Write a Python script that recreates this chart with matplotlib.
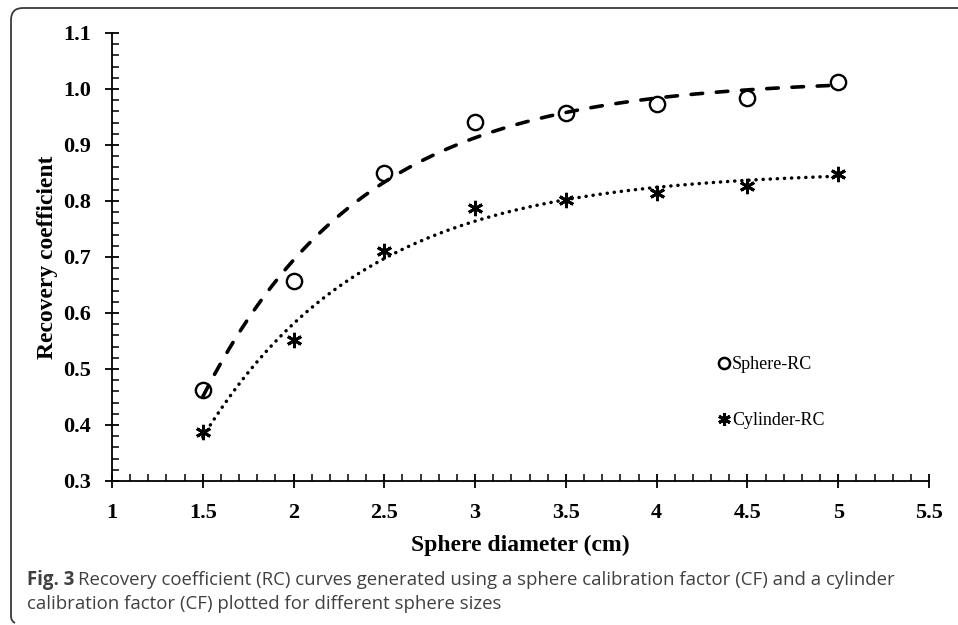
import numpy as np
import matplotlib
matplotlib.use("Agg")
import matplotlib.pyplot as plt
from matplotlib.path import Path
from matplotlib.patches import PathPatch
from matplotlib.ticker import MultipleLocator, FormatStrFormatter, FuncFormatter
from matplotlib.lines import Line2D

diameters = [1.5, 2.0, 2.5, 3.0, 3.5, 4.0, 4.5, 5.0]
sphere_rc = [0.462, 0.658, 0.850, 0.941, 0.957, 0.974, 0.984, 1.013]
cylinder_rc = [0.388, 0.551, 0.710, 0.788, 0.802, 0.815, 0.826, 0.849]

W, H = 958, 625
fig = plt.figure(figsize=(W / 100, H / 100), dpi=100)
ax = fig.add_axes([112 / W, 1 - 481 / H, (929 - 112) / W, (481 - 33) / H])

serif = ["Liberation Serif", "DejaVu Serif"]


def sat_fit(x, y):
    """Least-squares fit of y = A - B*exp(-k x) (trend line)."""
    x = np.asarray(x, float)
    y = np.asarray(y, float)
    best = None
    for k in np.linspace(0.2, 3.0, 561):
        M = np.column_stack([np.ones_like(x), -np.exp(-k * x)])
        coef, *_ = np.linalg.lstsq(M, y, rcond=None)
        sse = np.sum((M @ coef - y) ** 2)
        if best is None or sse < best[0]:
            best = (sse, k, coef)
    _, k, (A, B) = best
    return lambda t: A - B * np.exp(-k * t)


xs = np.linspace(min(diameters), max(diameters), 300)
fs = sat_fit(diameters, sphere_rc)
fc = sat_fit(diameters, cylinder_rc)
ax.plot(xs, fs(xs), color="black", lw=2.6, dashes=(3.2, 3.8),
        dash_capstyle="round", zorder=2)
ax.plot(xs, fc(xs), color="black", lw=2.5, linestyle=(0, (0.05, 2.0)),
        dash_capstyle="round", zorder=2)

ast = (6, 2, 0)
ax.plot(diameters, sphere_rc, ls="none", marker="o", ms=11, mfc="none",
        mec="black", mew=1.7, zorder=3)
ax.plot(diameters, cylinder_rc, ls="none", marker=ast, ms=11, mfc="black",
        mec="black", mew=2.1, zorder=3)

ax.set_xlim(1, 5.5)
ax.set_ylim(0.3, 1.1)
ax.xaxis.set_major_locator(MultipleLocator(0.5))
ax.xaxis.set_minor_locator(MultipleLocator(0.1))
ax.yaxis.set_major_locator(MultipleLocator(0.1))
ax.yaxis.set_minor_locator(MultipleLocator(0.02))
ax.yaxis.set_major_formatter(FormatStrFormatter("%.1f"))
ax.xaxis.set_major_formatter(FuncFormatter(lambda v, p: "%g" % v))

for s in ["top", "right"]:
    ax.spines[s].set_visible(False)
for s in ["left", "bottom"]:
    ax.spines[s].set_linewidth(1.3)
ax.tick_params(which="major", direction="inout", length=10, width=1.3,
               labelsize=16)
ax.tick_params(which="minor", direction="in", length=5, width=1.1)
ax.tick_params(axis="x", which="major", pad=11)
ax.tick_params(axis="y", which="major", pad=10)
for lab in ax.get_xticklabels() + ax.get_yticklabels():
    lab.set_fontfamily(serif)
    lab.set_fontweight("bold")

ax.set_xlabel("Sphere diameter (cm)", fontsize=17, fontweight="bold",
              family=serif, labelpad=8)
ax.set_ylabel("Recovery coefficient", fontsize=17, fontweight="bold",
              family=serif, labelpad=4)

handles = [Line2D([], [], ls="none", marker="o", ms=8, mfc="none",
                  mec="black", mew=1.8),
           Line2D([], [], ls="none", marker=ast, ms=9, mec="black", mew=2.2)]
ax.legend(handles, ["Sphere-RC", "Cylinder-RC"], frameon=False,
          loc="upper left", bbox_to_anchor=((711 - 112) / (929 - 112),
                                            (481 - 349) / (481 - 33)),
          prop={"family": serif, "size": 13}, handlelength=0.6,
          handletextpad=0.15, labelspacing=2.15, borderaxespad=0)

# frame around the figure
bc = "#3a3a3a"
r = 12
verts = [(W, H - 8), (11 + r, H - 8), (11, H - 8), (11, H - 8 - r),
         (11, H - 622 + 6), (11, H - 622 + 1), (15, H - 623)]
codes = [Path.MOVETO, Path.LINETO, Path.CURVE3, Path.CURVE3,
         Path.LINETO, Path.CURVE3, Path.CURVE3]
verts = [(x / W, y / H) for x, y in verts]
fig.patches.append(PathPatch(Path(verts, codes), transform=fig.transFigure,
                             fill=False, edgecolor=bc, lw=1.3))

cap_fam = ["Open Sans", "DejaVu Sans"]
cap_col = "#404040"
cap_size = 13.4
t1 = fig.text(27 / W, 1 - 580 / H, "Fig. 3", fontsize=cap_size,
              fontweight="bold", family=cap_fam, color=cap_col,
              va="center", ha="left")
fig.canvas.draw()
bb = t1.get_window_extent()
fig.text((bb.x1 + 4) / W, 1 - 580 / H,
         "Recovery coefficient (RC) curves generated using a sphere "
         "calibration factor (CF) and a cylinder",
         fontsize=cap_size, family=cap_fam, color=cap_col,
         va="center", ha="left")
fig.text(27 / W, 1 - 604 / H,
         "calibration factor (CF) plotted for different sphere sizes",
         fontsize=cap_size, family=cap_fam, color=cap_col,
         va="center", ha="left")

fig.savefig("out.png", dpi=100)
